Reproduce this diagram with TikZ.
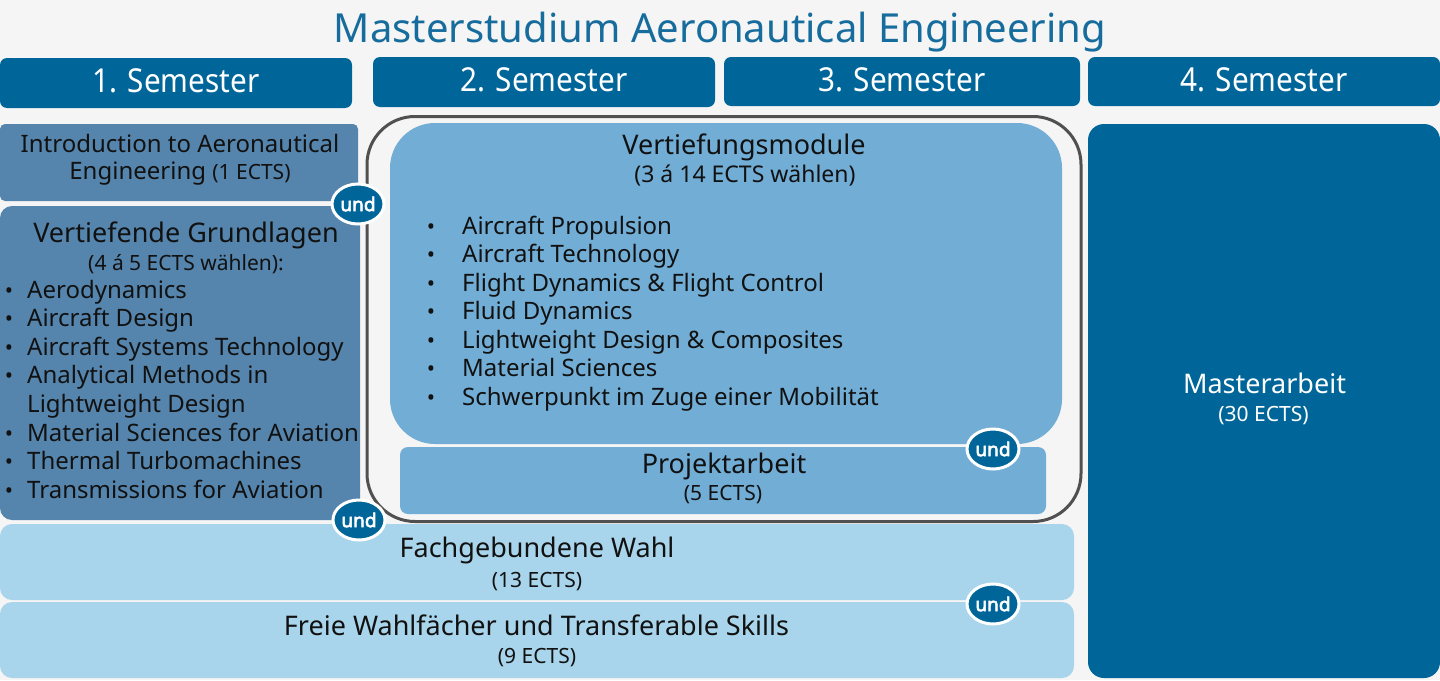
\documentclass[tikz,border=0pt]{standalone}
\usepackage{fontspec}
\setmainfont{Noto Sans}
\newfontfamily\hdrfont{Noto Sans}[FakeStretch=0.9]
\newfontfamily\undfont{Noto Sans}[FakeBold=3]
\usetikzlibrary{shapes.geometric}
\definecolor{bg}{RGB}{245,245,245}
\definecolor{dark}{RGB}{0,102,153}
\definecolor{steel}{RGB}{85,133,173}
\definecolor{mid}{RGB}{114,173,213}
\definecolor{light}{RGB}{168,213,235}
\definecolor{titleblue}{RGB}{22,108,156}
\definecolor{outline}{RGB}{80,80,80}
\definecolor{ink}{RGB}{17,17,17}
\newcommand\fs[1]{\fontsize{#1}{#1}\selectfont}
\begin{document}
\begin{tikzpicture}[x=1pt,y=-1pt,
  box/.style={inner sep=0pt, outer sep=0pt, draw=none},
  hdr/.style={box, fill=dark, rounded corners=7pt},
  txt/.style={anchor=base, inner sep=0pt, text=ink},
  wtxt/.style={anchor=base, inner sep=0pt, text=white},
  htxt/.style={anchor=base, inner sep=0pt, text=white, font=\hdrfont\fs{33}},
  litem/.style={anchor=base west, inner sep=0pt, text=ink, font=\fs{24}},
  bul/.style={anchor=base, inner sep=0pt, text=ink, font=\fs{22}},
  und/.style={ellipse, fill=dark, draw=white, line width=3pt, minimum width=52pt, minimum height=40pt, inner sep=0pt, text=white, font=\undfont\fs{19}}]
\useasboundingbox[fill=bg] (0,0) rectangle (1440,680);

% title
\node[anchor=base, inner sep=0pt, text=titleblue, font=\fs{40}] (title) at (720,42.7) {Masterstudium Aeronautical Engineering};

% semester headers
\node[hdr, minimum width=352pt, minimum height=50pt] (s1) at (176,83) {};
\node[hdr, minimum width=342pt, minimum height=50pt] (s2) at (544,82) {};
\node[hdr, minimum width=356pt, minimum height=49pt] (s3) at (902,81.5) {};
\node[hdr, minimum width=352pt, minimum height=49pt] (s4) at (1264,81.5) {};
\node[htxt] (s1t) at (176,92) {1. Semester};
\node[htxt] (s2t) at (544,91.5) {2. Semester};
\node[htxt] (s3t) at (902,91) {3. Semester};
\node[htxt] (s4t) at (1264,91) {4. Semester};

% outline group
\node[box, draw=outline, line width=3pt, rounded corners=48pt, minimum width=714pt, minimum height=405pt] (grp) at (724,319) {};

% boxes
\node[box, fill=steel, rounded corners=5pt, minimum width=358pt, minimum height=77pt] (intro) at (179,162.5) {};
\node[box, fill=steel, rounded corners=12pt, minimum width=360pt, minimum height=314pt] (vg) at (180,363) {};
\node[box, fill=mid, rounded corners=45pt, minimum width=672pt, minimum height=321pt] (vm) at (726,283.5) {};
\node[box, fill=mid, rounded corners=8pt, minimum width=646pt, minimum height=67pt] (pa) at (723,480.5) {};
\node[box, fill=light, rounded corners=12pt, minimum width=1074pt, minimum height=76pt] (fw) at (537,562) {};
\node[box, fill=light, rounded corners=12pt, minimum width=1074pt, minimum height=76pt] (fr) at (537,640) {};
\node[box, fill=dark, rounded corners=16pt, minimum width=352pt, minimum height=554pt] (ma) at (1264,401) {};

% intro text
\node[txt, font=\fs{24}] (introa) at (180,152.5) {Introduction to Aeronautical};
\node[txt, font=\fs{24}] (introb) at (180,179) {Engineering {\fs{21}(1 ECTS)}};

% Vertiefende Grundlagen
\node[txt, font=\fs{27}] (vgt) at (186,242.3) {Vertiefende Grundlagen};
\node[txt, font=\fs{21}] (vgs) at (186,270.5) {(4 á 5 ECTS wählen):};
\foreach \t/\b [count=\i from 0] in {Aerodynamics/•, Aircraft Design/•, Aircraft Systems Technology/•, Analytical Methods in/•, Lightweight Design/{}, Material Sciences for Aviation/•, Thermal Turbomachines/•, Transmissions for Aviation/•}{
  \node[bul] (vgb\i) at (9,298+28.6*\i) {\b};
  \node[litem] (vgi\i) at (27,298+28.6*\i) {\t};
}

% Vertiefungsmodule
\node[txt, font=\fs{27}] (vmt) at (744,154) {Vertiefungsmodule};
\node[txt, font=\fs{23}] (vms) at (745,182.3) {(3 á 14 ECTS wählen)};
\foreach \t [count=\i from 0] in {Aircraft Propulsion, Aircraft Technology, Flight Dynamics \& Flight Control, Fluid Dynamics, Lightweight Design \& Composites, Material Sciences, Schwerpunkt im Zuge einer Mobilität}{
  \node[bul] (vmb\i) at (431,234+28.5*\i) {•};
  \node[litem] (vmi\i) at (462,234+28.5*\i) {\t};
}

% Projektarbeit
\node[txt, font=\fs{27}] (pat) at (724,473.3) {Projektarbeit};
\node[txt, font=\fs{21}] (pas) at (723,500.5) {(5 ECTS)};

% Fachgebundene Wahl
\node[txt, font=\fs{27}] (fwt) at (537,557.3) {Fachgebundene Wahl};
\node[txt, font=\fs{21}] (fws) at (537,587.2) {(13 ECTS)};

% Freie
\node[txt, font=\fs{27}] (frt) at (536.5,635.6) {Freie Wahlfächer und Transferable Skills};
\node[txt, font=\fs{21}] (frs) at (537,663.8) {(9 ECTS)};

% Masterarbeit
\node[wtxt, font=\fs{27}] (mat) at (1264.5,393.3) {Masterarbeit};
\node[wtxt, font=\fs{21}] (mas) at (1263.5,421.2) {(30 ECTS)};

% und
\node[und] (u1) at (358,204) {und};
\node[und] (u2) at (359,520) {und};
\node[und] (u3) at (993,449) {und};
\node[und] (u4) at (993,604) {und};
\end{tikzpicture}
\end{document}
